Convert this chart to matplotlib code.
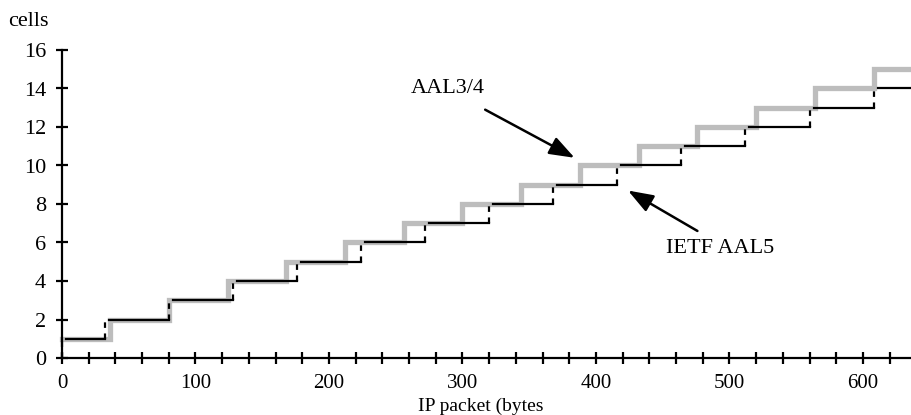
import matplotlib.pyplot as plt
from matplotlib.ticker import MultipleLocator

plt.rcParams['font.family'] = ['Liberation Serif', 'DejaVu Serif']

# step edges (bytes) and cell counts
aal34_edges = [0, 36, 80, 124, 168, 212, 256, 300, 344, 388, 432, 476, 520, 564, 608, 636]
aal34_cells = [1, 2, 3, 4, 5, 6, 7, 8, 9, 10, 11, 12, 13, 14, 15]

aal5_edges = [0, 32, 80, 128, 176, 224, 272, 320, 368, 416, 464, 512, 560, 608, 636]
aal5_cells = [1, 2, 3, 4, 5, 6, 7, 8, 9, 10, 11, 12, 13, 14]

x_major = [0, 100, 200, 300, 400, 500, 600]
y_major = [0, 2, 4, 6, 8, 10, 12, 14, 16]

W, H = 911, 415
FS = 16
fig = plt.figure(figsize=(W / 100, H / 100), dpi=100)
ax = fig.add_axes([62 / W, (H - 358) / H, (W - 62) / W, (358 - 50) / H])

# AAL3/4 : thick grey staircase
xs, ys = [], []
for i, c in enumerate(aal34_cells):
    xs += [aal34_edges[i], aal34_edges[i + 1]]
    ys += [c, c]
ax.plot(xs, ys, color='#bdbdbd', lw=3.8, solid_joinstyle='miter', zorder=2, clip_on=False)

# IETF AAL5 : black, solid treads and dashed risers
for i, c in enumerate(aal5_cells):
    ax.plot([aal5_edges[i] + 3, aal5_edges[i + 1]], [c, c], color='black', lw=1.6,
            zorder=3, clip_on=False)
    ax.plot([aal5_edges[i], aal5_edges[i]], [c - 1, c], color='black', lw=1.6,
            ls=(0, (2.5, 2.5)), zorder=3, clip_on=False)

ax.set_xlim(0, 636)
ax.set_ylim(0, 16)
ax.set_xticks(x_major)
ax.xaxis.set_minor_locator(MultipleLocator(20))
ax.set_yticks(y_major)

for s in ['top', 'right']:
    ax.spines[s].set_visible(False)
for s in ['left', 'bottom']:
    ax.spines[s].set_linewidth(1.6)

ax.tick_params(axis='both', which='both', direction='inout', length=9, width=1.6,
               labelsize=FS)
ax.tick_params(axis='x', which='major', pad=7, labelsize=15)
ax.tick_params(axis='y', pad=7)

arrow = dict(arrowstyle='-|>,head_length=0.55,head_width=0.2', color='black', lw=1.8,
             mutation_scale=28, shrinkA=0, shrinkB=0)
ax.text(289, 14.0, 'AAL3/4', fontsize=FS, ha='center', va='center')
ax.annotate('', xy=(384, 10.4), xytext=(317, 12.9), arrowprops=arrow)
ax.text(493, 5.7, 'IETF AAL5', fontsize=FS, ha='center', va='center')
ax.annotate('', xy=(424, 8.7), xytext=(476, 6.6), arrowprops=arrow)

fig.text(8 / W, 1 - 22 / H, 'cells', fontsize=FS, ha='left', va='center')
fig.text(481 / W, 0, 'IP packet (bytes', fontsize=14, ha='center', va='bottom')

fig.savefig('out.png', dpi=100)
